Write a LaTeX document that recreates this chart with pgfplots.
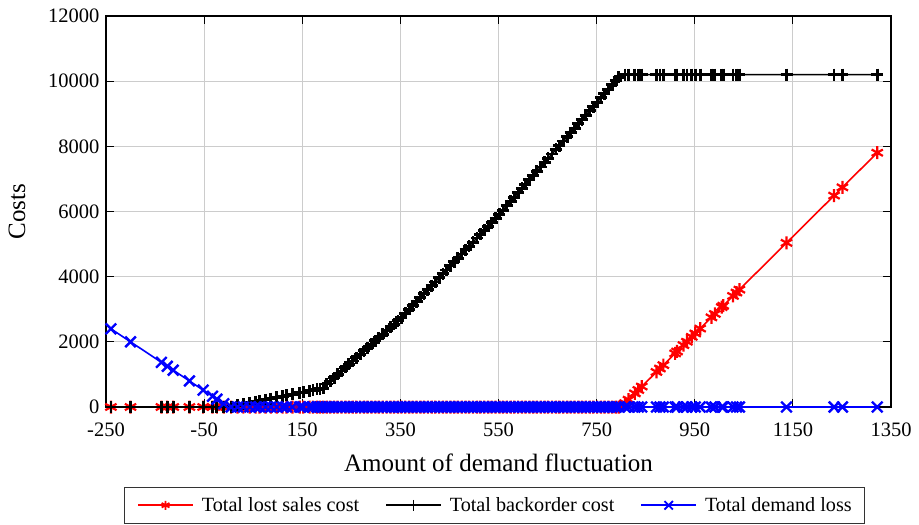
\documentclass[border=0pt]{standalone}
\usepackage{fontspec}
\setmainfont{Liberation Serif}
\usepackage{pgfplots}
\usepackage{pgfplotstable}
\pgfplotsset{compat=1.18}

\pgfplotstableread{
x lost back loss
-240 0 0 2400
-200 0 0 2000
-137 0 0 1370
-125 0 0 1250
-113 0 0 1130
-80 0 0 800
-52 0 0 520
-33 0 0 330
-24 0 0 240
-10 0 0 100
5 0 15 0
18 0 54 0
30 0 90 0
43 0 129 0
55 0 165 0
63 0 189 0
75 0 225 0
86 0 258 0
98 0 294 0
110 0 330 0
118 0 354 0
130 0 390 0
145 0 435 0
152 0 456 0
165 0 495 0
172 0 516 0
180 0 540 0
186 0 558 0
193 0 579 0
200 0 704 0
207 0 798 0
215 0 905 0
222 0 999 0
230 0 1106 0
238 0 1213 0
245 0 1307 0
253 0 1414 0
260 0 1508 0
268 0 1615 0
276 0 1722 0
283 0 1816 0
291 0 1923 0
299 0 2031 0
306 0 2124 0
314 0 2232 0
322 0 2339 0
330 0 2446 0
337 0 2540 0
345 0 2647 0
352 0 2746 0
360 0 2873 0
368 0 2999 0
375 0 3110 0
383 0 3237 0
391 0 3364 0
398 0 3475 0
406 0 3602 0
414 0 3728 0
421 0 3839 0
429 0 3966 0
437 0 4093 0
444 0 4204 0
452 0 4331 0
460 0 4458 0
467 0 4569 0
475 0 4695 0
483 0 4822 0
490 0 4933 0
498 0 5060 0
506 0 5187 0
513 0 5298 0
521 0 5424 0
529 0 5551 0
536 0 5662 0
544 0 5789 0
552 0 5919 0
559 0 6039 0
567 0 6177 0
575 0 6316 0
582 0 6436 0
590 0 6574 0
598 0 6712 0
605 0 6833 0
613 0 6971 0
621 0 7109 0
628 0 7230 0
636 0 7368 0
644 0 7506 0
651 0 7627 0
659 0 7765 0
667 0 7903 0
674 0 8024 0
682 0 8162 0
690 0 8300 0
697 0 8421 0
705 0 8559 0
713 0 8697 0
720 0 8818 0
728 0 8956 0
736 0 9094 0
743 0 9215 0
751 0 9353 0
759 0 9491 0
766 0 9612 0
774 0 9750 0
782 0 9888 0
789 0 10009 0
795 0 10113 0
808 120 10200 0
815 224 10200 0
828 419 10200 0
835 523 10200 0
842 628 10200 0
872 1076 10200 0
879 1181 10200 0
886 1286 10200 0
910 1645 10200 0
914 1704 10200 0
927 1899 10200 0
934 2003 10200 0
944 2153 10200 0
951 2257 10200 0
961 2407 10200 0
984 2751 10200 0
991 2855 10200 0
1005 3065 10200 0
1008 3110 10200 0
1028 3409 10200 0
1035 3513 10200 0
1041 3603 10200 0
1137 5038 10200 0
1234 6488 10200 0
1251 6742 10200 0
1322 7804 10200 0
}\costdata

\begin{document}
\begin{tikzpicture}
\begin{axis}[
  scale only axis, width=785pt, height=391pt,
  xmin=-250, xmax=1350, ymin=0, ymax=12000,
  xtick={-250,-50,150,350,550,750,950,1150,1350},
  ytick={0,2000,4000,6000,8000,10000,12000},
  grid=major,
  major grid style={line width=1.1pt, color=black!20},
  axis line style={line width=1.3pt, black},
  tick align=inside, tick pos=both, major tick length=8pt,
  tick style={line width=1.1pt, black},
  scaled ticks=false,
  /pgf/number format/assume math mode=true,
  /pgf/number format/1000 sep={},
  ticklabel style={font=\fontsize{20.5}{24}\selectfont},
  xticklabel style={yshift=-12pt},
  yticklabel style={xshift=-3pt},
  xlabel={Amount of demand fluctuation}, ylabel={Costs},
  label style={font=\fontsize{25}{30}\selectfont},
  xlabel style={at={(axis description cs:0.5,-0.143)}, anchor=center},
  ylabel style={at={(axis description cs:-0.1134,0.5)}, anchor=center, rotate=0},
  legend columns=3,
  legend cell align=left,
  legend style={at={(0.4949,-0.2046)}, anchor=north,
    font=\fontsize{20.2}{24}\selectfont, draw=black!80, line width=1pt,
    inner xsep=13pt, inner ysep=8pt,
    nodes={inner xsep=0pt},
    /tikz/every odd column/.append style={column sep=8pt},
    /tikz/every even column/.append style={column sep=26pt}},
  legend image code/.code={%
    \draw[#1] (0pt,0pt) -- (55pt,0pt);
    \draw[#1] plot coordinates {(27.5pt,0pt)};},
]
\coordinate (O) at (rel axis cs:0,0);
\addplot[red, line width=1.6pt, mark=asterisk, mark size=6.5pt, mark options={line width=2.2pt},
  legend image post style={mark size=4.5pt, mark options={line width=1.8pt}}] table[x=x, y=lost] {\costdata};
\addlegendentry{Total lost sales cost}
\addplot[black, line width=1.6pt, mark=+, mark size=6pt, mark options={line width=2.8pt},
  legend image post style={mark size=5.5pt, mark options={line width=1.8pt}}] table[x=x, y=back] {\costdata};
\addlegendentry{Total backorder cost}
\addplot[blue, line width=1.6pt, mark=x, mark size=7.5pt, mark options={line width=2.4pt},
  legend image post style={mark size=6pt, mark options={line width=1.8pt}}] table[x=x, y=loss] {\costdata};
\addlegendentry{Total demand loss}
\end{axis}
\pgfresetboundingbox
\path (O) ++(-106pt,-118pt) rectangle ++(919pt,525pt);
\end{tikzpicture}
\end{document}
